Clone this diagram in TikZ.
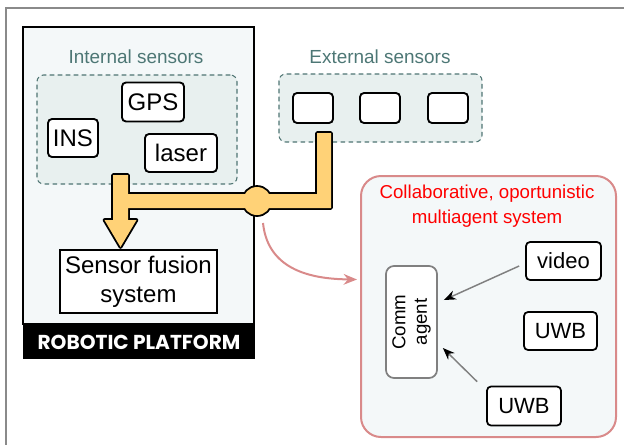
\documentclass[tikz,border=0pt]{standalone}
\usepackage{fontspec}
\setmainfont{Liberation Sans}
\newfontfamily\bandfont{Poppins}
\usetikzlibrary{arrows.meta, fit, calc}

\definecolor{paneBg}{HTML}{F4F8F9}
\definecolor{groupBg}{HTML}{E8F0EF}
\definecolor{groupLine}{HTML}{4F7573}
\definecolor{groupText}{HTML}{4D7775}
\definecolor{pipeFill}{HTML}{FFD277}
\definecolor{linkPink}{HTML}{D98A8A}
\definecolor{frameGray}{HTML}{8A8A8A}

\tikzset{
  sensor/.style={draw, line width=1.4pt, rounded corners=3pt, fill=white,
    inner sep=0pt, font=\fontsize{18}{20}\selectfont},
  agentbox/.style={draw, line width=1.3pt, rounded corners=3pt, fill=white,
    inner sep=0pt, font=\fontsize{16.5}{18}\selectfont},
  group/.style={draw=groupLine, line width=0.8pt, dash pattern=on 3.5pt off 2.5pt,
    fill=groupBg, rounded corners=5pt, inner sep=0pt},
  grouplabel/.style={text=groupText, font=\fontsize{14.2}{16}\selectfont},
  feed/.style={draw=gray, line width=1.1pt, -{Stealth[length=9pt,width=7pt,black]}},
}

\begin{document}
\begin{tikzpicture}[x=0.75pt, y=-0.75pt]
    \useasboundingbox (0,0) rectangle (624,444);

    % outer frame
    \draw[frameGray, line width=1.8pt] (6,450) -- (6,8) -- (630,8);

    % robotic platform
    \node[fit={(23,27) (254,324)}, draw, line width=1.4pt, fill=paneBg,
      inner sep=0pt] (platform) {};
    \node[fit={(23,325) (255,359)}, fill=black, inner sep=0pt] (band) {};
    \node[text=white, font=\bandfont\bfseries\fontsize{15.1}{17}\selectfont]
      at (band.center) (bandtext) {ROBOTIC PLATFORM};

    % internal sensors
    \node[grouplabel] at (136,57) (intlabel) {Internal sensors};
    \node[group, fit={(37,75) (237,184)}] (intbox) {};
    \node[sensor, minimum width=46.5pt, minimum height=29.25pt] at (153,102) (gps) {GPS};
    \node[sensor, minimum width=37.5pt, minimum height=28.5pt] at (73,138) (ins) {INS};
    \node[sensor, minimum width=54pt, minimum height=28.5pt] at (181,153) (laser) {laser};

    % external sensors
    \node[grouplabel] at (380,57) (extlabel) {External sensors};
    \node[group, fit={(279,74) (482,142)}] (extbox) {};
    \foreach \i/\x in {1/313, 2/380, 3/448}
      \node[sensor, minimum width=30pt, minimum height=22.5pt] at (\x,108) (ext\i) {};

    % fusion
    \node[draw, line width=1.4pt, fill=white, minimum width=117.75pt,
      minimum height=47.25pt, align=center, font=\fontsize{18}{22}\selectfont]
      at (138.5,281.5) (fusion) {Sensor fusion\\system};

    % data pipe: outline first, then fill, so the joint looks like one piece
    \def\pipe{(113,175) -- (128,175) -- (128,194) -- (317,194) -- (317,133)
      -- (331,133) -- (331,208) -- (128,208) -- (128,220) -- (136.5,220)
      -- (120.5,247) -- (104.5,220) -- (113,220) -- cycle}
    \coordinate (junction) at (257,201);
    \draw[line width=2.8pt, line join=round] \pipe;
    \draw[line width=2.8pt] (junction) circle[radius=14];
    \fill[pipeFill] \pipe;
    \fill[pipeFill] (junction) circle[radius=14];

    % multiagent system
    \node[fit={(361,176) (616,437)}, draw=linkPink, line width=1.5pt,
      fill=paneBg, rounded corners=15pt, inner sep=0pt] (multi) {};
    \node[text=red, align=center, font=\fontsize{14}{18.5}\selectfont]
      at (487,206) (multilabel) {Collaborative, oportunistic\\multiagent system};
    \node[draw=gray, line width=1.3pt, fill=white, rounded corners=6pt,
      minimum width=38.25pt, minimum height=84pt] at (411.5,322) (comm) {};
    \node[rotate=90, align=center, font=\fontsize{14}{16}\selectfont]
      at (comm.center) (commtext) {Comm\\agent};
    \node[agentbox, minimum width=56.25pt, minimum height=28.5pt] at (563.5,261) (video) {video};
    \node[agentbox, minimum width=54.75pt, minimum height=28.5pt] at (560.5,331) (uwbA) {UWB};
    \node[agentbox, minimum width=55.5pt, minimum height=29.25pt] at (524,406) (uwbB) {UWB};

    \draw[feed] ($(video.west)+(-6,5)$) -- ($(comm.east)+(6,-22)$);
    \draw[feed] ($(uwbB.north west)+(-9,-4)$) -- ($(comm.east)+(5,26)$);

    % link from the platform to the multiagent system
    \draw[linkPink, line width=1.5pt, -{Stealth[length=10pt,width=8pt]}]
      ($(junction)+(6,22)$) .. controls (268,272) and (315,279) .. ($(multi.west)+(-3,-27)$);
\end{tikzpicture}
\end{document}
